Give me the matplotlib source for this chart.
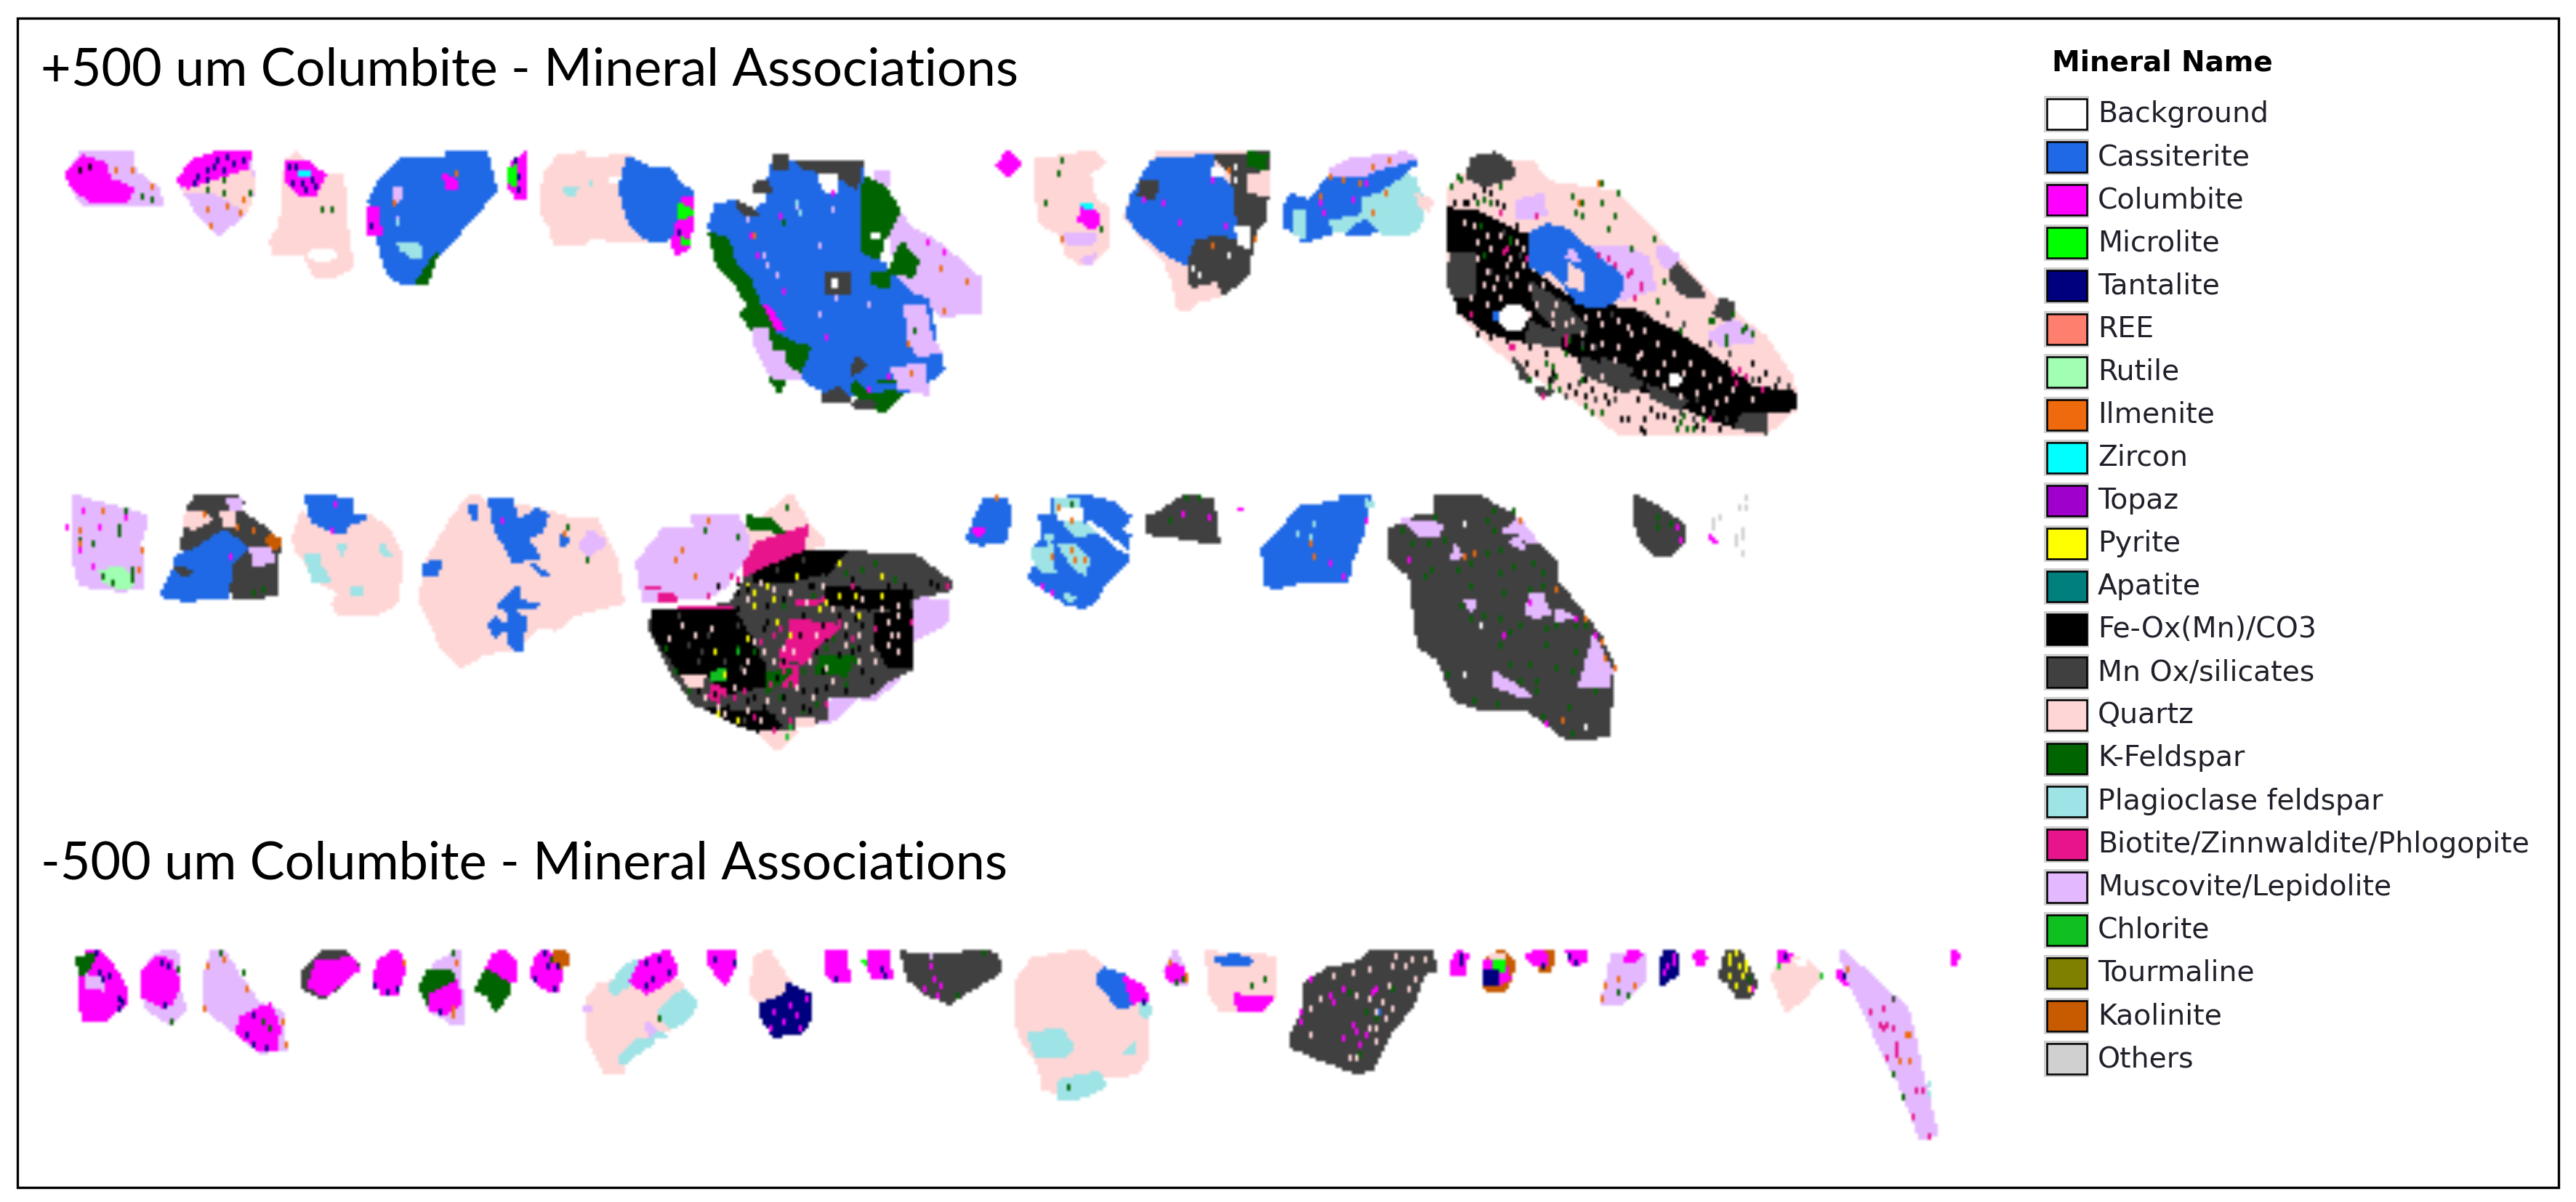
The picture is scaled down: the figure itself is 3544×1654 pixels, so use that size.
import matplotlib
matplotlib.use("Agg")
import numpy as np
import matplotlib.pyplot as plt
from matplotlib.backends.backend_agg import FigureCanvasAgg
from matplotlib.collections import PolyCollection
from matplotlib.figure import Figure
from matplotlib.patches import Polygon, Rectangle, Ellipse

# ---------- legend data ----------
MINERALS = ["Background", "Cassiterite", "Columbite", "Microlite", "Tantalite", "REE", "Rutile", "Ilmenite",
            "Zircon", "Topaz", "Pyrite", "Apatite", "Fe-Ox(Mn)/CO3", "Mn Ox/silicates", "Quartz", "K-Feldspar",
            "Plagioclase feldspar", "Biotite/Zinnwaldite/Phlogopite", "Muscovite/Lepidolite", "Chlorite",
            "Tourmaline", "Kaolinite", "Others"]
COLOURS = ["#FFFFFF", "#1F69E6", "#FF00FF", "#00FF00", "#00007F", "#FF7F6F", "#A0FFB0", "#EE6A0C",
           "#00FFFF", "#A000CC", "#FFFF00", "#007F7F", "#000000", "#404040", "#FFD6D6", "#006400",
           "#9EE3E6", "#E8148C", "#E4B8FF", "#10C020", "#808000", "#C85A00", "#D0D0D0"]
LEGEND_TITLE = "Mineral Name"
TITLE_COARSE = "+500 um Columbite - Mineral Associations"
TITLE_FINE = "-500 um Columbite - Mineral Associations"

BG, CAS, COL, MIC, TAN, REE, RUT, ILM, ZIR, TOP, PYR, APA, FE, MN, QZ, KF, PL, BI, MU, CH, TOU, KA, OT = COLOURS

# regions of the map the outlines were read in: origin x, origin y, x scale, y scale
REGIONS = {"a": (40, 180, 1.17, 3), "b": (1340, 180, 1.3067, 3), "c": (60, 660, 1.206, 3),
           "d": (1300, 660, 1.3067, 3), "e": (60, 1280, 1.206, 3), "f": (1300, 1280, 1.0814, 3)}

# ---------- grain outlines (drawn in order) ----------
GRAINS_A = [
 (MU, [(85,100),(165,100),(170,180),(205,240),(215,305),(85,305),(60,190)]),
 (COL, [(85,115),(120,140),(130,210),(165,245),(155,300),(105,300),(75,250),(60,190)]),
 (MU, [(240,210),(265,130),(300,100),(355,100),(362,240),(350,340),(305,430),(270,340)]),
 (QZ, [(250,240),(355,175),(362,230),(350,340),(330,300),(300,260),(250,250)]),
 (COL, [(240,210),(265,130),(300,100),(355,100),(350,160),(310,190),(255,240)]),
 (QZ, [(430,100),(460,180),(505,195),(510,400),(520,570),(485,615),(460,610),(445,515),(395,520),(388,460),(405,410),(410,200),(415,130)]),
 (COL, [(415,130),(445,135),(475,190),(460,270),(435,265),(415,220)]),
 (ZIR, [(432,170),(455,170),(455,195),(432,195)]),
 (CAS, [(600,125),(670,120),(672,100),(735,100),(750,250),(700,400),(650,540),(635,635),(605,640),(580,600),(565,500),(560,400),(548,300),(560,230)]),
 (COL, [(545,320),(560,330),(565,430),(548,430)]),
 (KF, [(655,520),(640,635),(625,630)]),
 (COL, [(668,195),(688,215),(688,245),(672,240)]),
 (PL, [(595,470),(625,470),(632,530),(620,530),(600,495)]),
 (MU, [(590,250),(600,250),(592,300),(585,300)]),
 (COL, [(798,100),(798,285),(785,285),(772,230),(775,150)]),
 (MIC, [(772,165),(785,155),(785,225),(775,230)]),
 (QZ, [(855,110),(890,100),(900,130),(960,105),(970,125),(960,240),(965,380),(1005,460),(960,460),(900,445),(890,470),(845,470),(840,400),(822,340),(830,180)]),
 (BG, [(930,190),(955,190),(955,225),(935,225)]),
 (PL, [(860,240),(880,240),(875,265),(865,265)]),
 (CAS, [(965,120),(1000,165),(1030,160),(1045,220),(1068,270),(1060,420),(1020,460),(990,450),(965,380),(950,240)]),
 (COL, [(1050,290),(1068,280),(1062,490),(1040,510),(1035,470),(1045,380)]),
 (MIC, [(1048,310),(1066,345),(1055,365),(1045,360)]),
 (MIC, [(1050,450),(1062,470),(1050,480)]),
 (MU, [(1360,170),(1385,180),(1375,280),(1420,410),(1450,450),(1480,510),(1530,620),(1530,760),(1470,765),(1455,740),(1430,700),(1400,650),(1390,500)]),
 (CAS, [(1195,150),(1230,140),(1340,130),(1345,300),(1345,520),(1375,560),(1420,690),(1445,700),(1460,900),(1470,990),(1430,1070),(1380,1100),(1280,1080),(1240,1020),(1210,960),(1200,870),(1170,720),(1140,590),(1115,480),(1095,400),(1105,310),(1140,300),(1165,340),(1190,300),(1190,210)]),
 (KF, [(1095,430),(1125,460),(1135,560),(1160,630),(1175,730),(1205,830),(1185,820),(1165,830),(1145,760),(1160,730),(1135,630),(1110,570)]),
 (KF, [(1195,840),(1225,880),(1255,900),(1240,1000),(1225,990),(1208,960),(1215,910),(1195,915)]),
 (KF, [(1345,200),(1375,240),(1400,340),(1375,450),(1365,530),(1340,500),(1340,300)]),
 (KF, [(1405,475),(1430,545),(1420,605),(1385,590),(1395,520)]),
 (KF, [(1355,600),(1380,600),(1385,650),(1360,640)]),
 (KF, [(1330,1040),(1350,1100),(1385,1085),(1405,1090),(1375,1165),(1345,1130),(1325,1070)]),
 (KF, [(1195,1030),(1215,1040),(1205,1080)]),
 (KF, [(1365,1030),(1410,1030),(1410,1050),(1370,1050)]),
 (MU, [(1165,830),(1185,825),(1195,915),(1215,920),(1210,960),(1240,1020),(1200,1030),(1190,1000),(1170,900)]),
 (MU, [(1410,730),(1440,730),(1450,860),(1465,920),(1430,930),(1415,860)]),
 (MU, [(1390,990),(1440,970),(1445,1090),(1400,1060)]),
 (MN, [(1200,110),(1222,110),(1220,160),(1200,165)]),
 (MN, [(1235,130),(1340,130),(1330,240),(1300,190),(1260,165),(1240,150)]),
 (MN, [(1165,230),(1185,215),(1195,260),(1170,255)]),
 (MN, [(1140,300),(1160,330),(1170,355),(1145,340)]),
 (MN, [(1285,590),(1320,600),(1320,670),(1280,680)]),
 (MN, [(1330,940),(1345,970),(1325,1010)]),
 (MN, [(1275,1100),(1305,1070),(1320,1120),(1280,1125)]),
 (MN, [(1330,1120),(1360,1130),(1350,1150),(1325,1140)]),
 (BG, [(1270,190),(1300,190),(1300,260),(1280,250)]),
 (BG, [(1290,620),(1300,620),(1300,650),(1290,650)]),
 (BG, [(1355,430),(1370,430),(1370,450),(1355,450)]),
 (COL, [(1185,730),(1195,760),(1215,830),(1205,830)]),
]
HOLES_A = [(472, 520, 38, 38)]

GRAINS_B = [
 (COL, [(60,100),(80,145),(60,190),(42,145)]),
 (QZ, [(110,130),(190,100),(215,100),(232,135),(205,180),(215,300),(238,320),(240,480),(215,540),(195,560),(165,510),(155,430),(120,390),(110,250)]),
 (COL, [(195,330),(220,350),(222,390),(210,410),(188,370)]),
 (ZIR, [(195,305),(210,305),(208,330),(198,330)]),
 (MU, [(160,440),(215,430),(215,465),(190,475),(165,465)]),
 (MU, [(195,540),(215,520),(205,560)]),
 (QZ, [(330,100),(525,100),(525,250),(490,560),(440,685),(400,710),(385,745),(368,745),(355,620),(340,530),(300,440),(270,360),(280,300),(300,210)]),
 (MN, [(430,110),(525,100),(525,180),(490,180),(490,260),(525,270),(520,380),(500,430),(490,600),(445,680),(440,620),(390,645),(385,560),(400,460),(450,445),(470,420),(465,360),(440,320),(465,260),(460,180)]),
 (CAS, [(320,130),(370,120),(430,110),(430,180),(460,250),(470,440),(400,460),(385,560),(345,510),(300,430),(275,360),(280,290),(300,210)]),
 (MN, [(400,460),(450,445),(450,530),(395,640),(385,560)]),
 (MN, [(300,220),(330,210),(320,290),(295,270)]),
 (QZ, [(495,190),(525,180),(525,270),(495,260)]),
 (BG, [(470,400),(495,410),(495,490),(475,470)]),
 (KF, [(495,100),(525,105),(520,160),(495,150)]),
 (BG, [(425,165),(445,170),(440,195),(425,190)]),
 (PL, [(770,185),(790,210),(805,300),(800,400),(775,430),(720,425),(640,420),(635,365),(695,350),(695,270),(720,260)]),
 (CAS, [(570,270),(600,300),(640,195),(700,190),(715,170),(790,120),(795,130),(770,185),(720,260),(690,270),(695,340),(630,370),(640,425),(590,465),(585,420),(555,405),(555,340)]),
 (MU, [(640,165),(680,125),(770,100),(790,120),(715,170),(700,190),(640,195)]),
 (QZ, [(795,275),(820,295),(815,335),(800,310)]),
 (PL, [(575,340),(590,340),(590,445),(572,430)]),
 (CAS, [(670,430),(700,380),(720,425)]),
 (QZ, [(880,190),(935,100),(960,140),(1000,135),(1030,220),(1150,260),(1200,370),(1240,480),(1320,680),(1420,860),(1470,1030),(1475,1150),(1420,1255),(1160,1255),(1090,1130),(960,950),(870,760),(850,500),(850,250)]),
 (FE, [(852,330),(900,340),(950,400),(1000,450),(1000,590),(1090,730),(1180,740),(1300,900),(1400,1070),(1470,1080),(1475,1150),(1420,1170),(1420,1250),(1370,1230),(1300,1170),(1240,1110),(1170,1050),(1100,970),(1050,890),(980,870),(920,830),(870,750),(855,600)]),
 (MN, [(895,120),(935,100),(960,140),(970,190),(920,230),(885,200)]),
 (MN, [(855,510),(900,520),(900,680),(865,690),(852,640)]),
 (MN, [(1000,800),(1050,850),(1050,890),(990,880)]),
 (MN, [(970,950),(1000,1040),(985,1030)]),
 (MN, [(1250,530),(1300,640),(1310,690),(1270,680),(1250,600)]),
 (MN, [(1340,700),(1365,720),(1360,790),(1330,760)]),
 (MN, [(1090,940),(1200,1050),(1170,1080),(1090,1000)]),
 (MN, [(1210,1060),(1280,1120),(1260,1150),(1220,1110)]),
 (MN, [(1380,1170),(1420,1170),(1420,1250),(1370,1230)]),
 (MN, [(1010,1070),(1040,1080),(1020,1105)]),
 (MN, [(1000,640),(1060,720),(1100,830),(1060,850),(1010,740)]),
 (MN, [(1130,950),(1180,990),(1165,1020),(1125,990)]),
 (MU, [(1110,480),(1170,490),(1210,530),(1220,660),(1160,700),(1165,620),(1120,530)]),
 (CAS, [(1000,430),(1030,395),(1065,420),(1110,510),(1165,620),(1155,690),(1130,730),(1085,720),(1060,640),(1030,570),(1020,600),(1000,560)]),
 (QZ, [(1070,560),(1090,600),(1095,660),(1065,640)]),
 (MU, [(1070,500),(1085,540),(1065,530)]),
 (MU, [(975,300),(1020,270),(1025,350),(975,370)]),
 (MU, [(1230,480),(1250,500),(1265,530),(1245,570),(1225,520)]),
 (MU, [(1360,790),(1400,830),(1400,870),(1340,890),(1320,850)]),
 (CAS, [(935,750),(945,750),(945,785),(930,785)]),
]
HOLES_B = [(968, 775, 44, 100), (1257, 1030, 18, 40)]

GRAINS_C = [
 (MU, [(50,70),(75,90),(165,150),(170,180),(160,260),(165,450),(130,460),(60,440),(48,300)]),
 (RUT, [(95,380),(130,370),(150,440),(130,455),(100,420)]),
 (MN, [(255,70),(315,70),(330,100),(325,140),(370,210),(390,260),(385,480),(340,490),(320,490),(310,460),(310,350),(335,290),(300,210),(240,310),(230,280),(235,190),(240,125)]),
 (QZ, [(232,150),(260,140),(275,170),(250,205),(232,185)]),
 (QZ, [(295,140),(315,140),(318,190),(300,190)]),
 (CAS, [(300,215),(335,290),(310,350),(305,490),(235,500),(195,480),(215,390),(220,325),(255,290)]),
 (MU, [(345,295),(375,290),(380,340),(350,360)]),
 (MU, [(305,85),(328,90),(325,130),(310,125)]),
 (KA, [(375,230),(392,260),(385,285),(372,260)]),
 (MN, [(220,370),(245,380),(235,400)]),
 (QZ, [(430,140),(450,200),(500,200),(540,155),(570,210),(595,320),(585,510),(550,560),(490,560),(480,520),(490,470),(450,410),(430,320),(418,300),(415,235)]),
 (CAS, [(435,80),(465,70),(510,90),(512,160),(535,160),(505,190),(495,225),(465,200),(445,170)]),
 (PL, [(435,320),(455,318),(460,370),(475,430),(450,430)]),
 (PL, [(490,270),(500,270),(495,310)]),
 (PL, [(510,450),(530,460),(525,480),(512,475)]),
 (PL, [(560,270),(575,320),(565,320)]),
 (QZ, [(715,70),(735,100),(790,110),(880,170),(915,170),(950,340),(960,510),(880,560),(850,620),(820,610),(780,700),(730,720),(690,775),(660,690),(625,500),(635,340),(680,160),(700,90)]),
 (CAS, [(740,90),(775,90),(785,180),(820,130),(835,150),(825,220),(800,240),(820,330),(780,340),(770,290),(750,210)]),
 (CAS, [(705,115),(718,110),(715,165)]),
 (CAS, [(630,355),(660,340),(650,390),(632,395)]),
 (CAS, [(785,445),(790,510),(820,515),(815,530),(785,535),(775,560),(755,520)]),
 (CAS, [(750,570),(762,620),(750,650),(740,610)]),
 (CAS, [(770,560),(800,570),(795,640),(790,710),(775,690),(768,620)]),
 (CAS, [(810,355),(835,400),(825,395)]),
 (CAS, [(860,240),(870,260),(860,270)]),
 (MU, [(905,220),(930,260),(905,320),(890,280)]),
 (MU, [(1075,150),(1145,150),(1170,220),(1170,300),(1130,440),(1100,490),(995,500),(985,350),(1030,205),(1080,205)]),
 (QZ, [(1240,70),(1265,180),(1295,270),(1180,340),(1170,210)]),
 (MU, [(1440,490),(1500,510),(1495,600),(1460,640),(1440,670),(1440,580)]),
 (MU, [(1370,840),(1420,780),(1415,830),(1375,910),(1350,900),(1300,1010),(1280,1000),(1310,910)]),
 (MN, [(1180,350),(1230,295),(1330,300),(1400,320),(1445,320),(1505,430),(1500,460),(1440,490),(1440,780),(1400,830),(1370,890),(1300,900),(1295,990),(1250,1020),(1200,1050),(1140,980),(1080,930),(1040,790),(1005,620),(1010,550),(1140,520)]),
 (FE, [(1010,550),(1140,530),(1180,700),(1200,850),(1140,880),(1100,810),(1060,810),(1040,740),(1010,630)]),
 (FE, [(1180,350),(1230,295),(1330,300),(1300,380),(1240,420),(1180,420)]),
 (FE, [(1380,560),(1440,540),(1440,780),(1400,770),(1380,680)]),
 (FE, [(1100,950),(1200,970),(1220,1020),(1190,1045),(1140,1000)]),
 (FE, [(1300,450),(1440,470),(1430,540),(1300,520)]),
 (BI, [(1240,580),(1320,610),(1280,690),(1260,760),(1220,730),(1240,650)]),
 (BI, [(1180,270),(1265,200),(1260,290),(1190,360),(1160,400)]),
 (BI, [(995,440),(1025,440),(1025,455),(995,455)]),
 (BI, [(1020,480),(1040,480),(1050,500),(1020,500)]),
 (BI, [(1050,530),(1145,530),(1145,540),(1050,540)]),
 (BI, [(1250,500),(1290,500),(1280,520),(1250,515)]),
 (BI, [(1110,850),(1130,880),(1120,920),(1105,900)]),
 (BI, [(1220,760),(1250,780),(1250,860),(1225,850)]),
 (KF, [(1170,160),(1205,165),(1225,220),(1170,200)]),
 (KF, [(1200,800),(1240,790),(1200,880)]),
 (KF, [(1290,730),(1340,740),(1330,810),(1280,800)]),
 (CH, [(1110,800),(1130,790),(1130,825),(1110,825)]),
 (QZ, [(1060,810),(1095,810),(1090,860),(1070,860)]),
 (QZ, [(1250,980),(1280,980),(1280,1020),(1245,1020)]),
 (QZ, [(1190,1050),(1250,1040),(1215,1115)]),
]

GRAINS_D = [
 (CAS, [(70,90),(105,85),(118,135),(105,260),(65,270),(40,250),(55,160)]),
 (COL, [(50,205),(70,215),(55,235)]),
 (CAS, [(190,90),(245,70),(300,100),(330,160),(315,210),(330,240),(325,340),(280,440),(270,500),(245,530),(215,510),(150,410),(165,340),(155,300),(175,250),(170,150),(190,150)]),
 (PL, [(195,90),(240,80),(240,150),(195,140)]),
 (BG, [(205,125),(245,125),(245,180),(205,160)]),
 (PL, [(215,180),(270,195),(270,225),(235,230)]),
 (PL, [(160,290),(190,280),(195,385),(175,380),(155,320)]),
 (PL, [(205,275),(230,280),(255,335),(250,395),(225,340)]),
 (PL, [(180,240),(190,240),(185,265)]),
 (PL, [(215,480),(232,490),(225,505)]),
 (BG, [(258,185),(262,185),(325,300),(321,300)]),
 (MN, [(360,150),(380,150),(430,70),(480,90),(490,265),(440,250),(410,235),(380,235),(360,215)]),
 (COL, [(525,120),(535,120),(535,140),(528,140)]),
 (CAS, [(640,115),(710,100),(710,70),(760,70),(750,220),(730,330),(720,430),(630,430),(590,450),(575,430),(570,290),(600,220)]),
 (PL, [(755,85),(770,115),(755,120)]),
 (MN, [(880,70),(955,70),(1030,170),(1060,260),(1095,340),(1100,430),(1145,560),(1175,650),(1200,780),(1190,1060),(1120,1075),(1045,950),(960,945),(915,910),(885,740),(850,690),(835,400),(800,330),(795,220),(850,150),(880,150)]),
 (MU, [(1005,215),(1030,170),(1060,260),(1030,250),(1040,290),(1015,260),(1040,230)]),
 (MU, [(820,170),(850,180),(890,190),(885,230),(850,235),(835,190)]),
 (MU, [(1050,470),(1070,480),(1085,550),(1060,575),(1045,550)]),
 (MU, [(1095,540),(1125,570),(1095,590)]),
 (MU, [(1165,650),(1195,790),(1190,850),(1140,850),(1150,780)]),
 (MU, [(985,800),(1050,895),(1030,890),(985,850)]),
 (MU, [(935,500),(950,500),(945,550)]),
 (MU, [(915,280),(925,320),(910,330)]),
 (MN, [(1240,70),(1300,150),(1328,200),(1325,260),(1300,315),(1275,315),(1250,250),(1240,190)]),
 (COL, [(1375,240),(1385,265),(1378,265)]),
]

GRAINS_E = [
 (COL, [(85,85),(110,130),(135,240),(135,300),(100,378),(65,375),(60,240),(70,100)]),
 (KF, [(55,115),(85,105),(65,190)]),
 (MU, [(70,190),(95,195),(100,245),(70,240)]),
 (MU, [(165,170),(190,100),(220,85),(225,250),(235,330),(210,385),(170,320)]),
 (COL, [(190,110),(210,130),(225,230),(210,300),(200,320),(165,270),(165,175)]),
 (MU, [(280,85),(300,90),(320,180),(355,300),(395,340),(400,490),(360,505),(320,420),(265,320),(265,200)]),
 (COL, [(375,310),(390,400),(385,500),(360,500),(320,420),(330,360)]),
 (MN, [(430,180),(465,90),(495,90),(520,150),(480,250),(460,280),(430,235)]),
 (COL, [(455,130),(510,120),(522,160),(465,270),(440,230)]),
 (COL, [(585,85),(600,150),(585,260),(565,265),(548,220),(555,130)]),
 (MU, [(650,140),(690,90),(695,380),(680,385),(640,330),(630,260)]),
 (KF, [(640,170),(675,170),(680,220),(650,240),(640,310),(625,240)]),
 (COL, [(640,270),(685,215),(692,300),(665,345),(640,330)]),
 (COL, [(760,85),(780,130),(780,210),(750,225),(735,170),(745,110)]),
 (KF, [(735,170),(770,225),(770,260),(750,330),(738,270),(718,250)]),
 (COL, [(830,85),(860,130),(860,190),(850,250),(830,240),(810,185),(815,120)]),
 (KA, [(845,95),(865,95),(870,130),(855,160)]),
 (QZ, [(920,230),(980,195),(1055,215),(1060,250),(1020,340),(1045,400),(1010,430),(1005,470),(960,550),(960,590),(930,585),(915,510),(900,430),(900,300)]),
 (PL, [(1060,250),(1080,300),(1075,340),(1045,405),(1020,345)]),
 (PL, [(985,450),(1010,460),(960,550),(955,525)]),
 (PL, [(960,160),(985,130),(985,195),(945,270),(940,240)]),
 (PL, [(1010,420),(1030,435),(1005,440)]),
 (COL, [(990,130),(1035,85),(1050,170),(1030,215),(1000,260),(975,210)]),
 (MU, [(1000,385),(1015,410),(1005,440)]),
 (MU, [(895,318),(910,318),(910,345),(895,345)]),
 (COL, [(1105,85),(1145,90),(1148,130),(1130,220),(1118,190),(1105,140)]),
 (QZ, [(1200,85),(1235,210),(1240,260),(1190,300),(1172,260),(1180,120)]),
 (TAN, [(1235,230),(1272,270),(1272,350),(1255,430),(1210,435),(1190,350),(1190,310),(1230,270)]),
 (COL, [(1300,95),(1330,95),(1335,210),(1310,210),(1298,170)]),
 (COL, [(1370,90),(1400,85),(1405,195),(1375,195),(1365,140)]),
 (MIC, [(1355,125),(1365,125),(1365,155)]),
]

GRAINS_F = [
 (MN, [(-64,95),(-25,105),(20,100),(45,85),(75,100),(82,170),(40,240),(15,280),(5,300),(-5,290),(-30,260),(-55,200)]),
 (QZ, [(130,120),(205,85),(230,150),(260,200),(300,290),(300,520),(285,590),(230,610),(170,665),(145,660),(140,560),(108,420),(105,220)]),
 (PL, [(125,430),(170,410),(190,480),(175,520),(135,515)]),
 (PL, [(170,625),(225,590),(238,640),(200,690),(170,695)]),
 (PL, [(285,460),(285,515),(265,515)]),
 (PL, [(295,300),(305,330),(298,365),(288,325)]),
 (CAS, [(235,160),(265,190),(280,300),(262,325),(240,260),(225,205)]),
 (COL, [(265,195),(290,230),(302,285),(280,300)]),
 (MU, [(340,85),(350,140),(360,225),(340,230),(325,170),(335,130)]),
 (COL, [(335,135),(355,170),(352,210),(335,215),(328,170)]),
 (QZ, [(388,95),(465,100),(490,125),(490,270),(485,280),(470,335),(410,335),(395,270)]),
 (CAS, [(410,115),(430,105),(455,125),(445,145),(415,145),(400,120)]),
 (COL, [(430,270),(485,280),(465,335),(435,325)]),
 (MN, [(630,95),(720,85),(730,160),(710,180),(695,310),(660,420),(635,570),(615,590),(550,525),(515,480),(515,430),(530,360),(535,220),(575,155),(610,145)]),
 (COL, [(765,85),(775,110),(770,180),(750,180),(755,130)]),
 (KA, [(825,85),(845,130),(840,200),(830,250),(805,250),(800,225),(800,135)]),
 (QZ, [(815,100),(835,100),(835,130),(810,130)]),
 (COL, [(800,135),(830,135),(838,200),(820,225),(800,220)]),
 (TAN, [(802,170),(820,165),(820,220),(802,220)]),
 (MIC, [(815,135),(830,135),(830,170),(820,160)]),
 (KA, [(890,95),(905,95),(898,170),(885,165)]),
 (COL, [(865,105),(880,85),(895,110),(890,145),(872,135)]),
 (COL, [(925,85),(950,85),(952,120),(935,150),(928,125)]),
 (MU, [(990,110),(1040,100),(1038,210),(1005,300),(975,310),(985,200)]),
 (COL, [(1020,85),(1035,100),(1020,130),(1010,125)]),
 (TAN, [(1070,90),(1085,95),(1090,170),(1065,230),(1062,140)]),
 (COL, [(1122,85),(1130,115),(1122,150),(1113,110)]),
 (MN, [(1162,90),(1180,90),(1195,170),(1205,220),(1195,280),(1180,280),(1165,220),(1152,190)]),
 (QZ, [(1245,110),(1280,130),(1300,185),(1275,280),(1250,335),(1245,300),(1230,200)]),
 (BG, [(1265,130),(1280,130),(1275,145)]),
 (COL, [(1240,90),(1258,100),(1250,130),(1238,125)]),
 (COL, [(1330,165),(1340,220),(1325,195)]),
 (MU, [(1330,85),(1350,130),(1430,330),(1440,440),(1455,640),(1475,850),(1450,855),(1420,640),(1390,480),(1360,300),(1340,190)]),
 (COL, [(1500,85),(1505,110),(1500,150),(1497,105)]),
]

# ---------- small inclusions ----------
SPECKS_A = [
 (TAN, [(270,200),(285,165),(300,150),(315,175),(330,140),(345,130),(265,220),(290,210),(320,120),(305,125)]),
 (ILM, [(140,175),(165,165),(200,235),(320,320),(345,295),(340,340),(290,330),(295,400),(690,185),(590,300),(1165,435),(1415,890),(1465,570),(1510,625),(1470,750),(1420,1000)]),
 (KF, [(183,275),(200,290),(315,210),(355,270),(290,250),(315,270),(485,330),(470,330),(1215,390),(1425,830)]),
 (TAN, [(430,150),(455,210),(440,230),(425,225),(460,235),(445,255),(420,160),(785,135),(788,190),(790,250),(1045,430),(552,395)]),
 (MU, [(1155,370),(1235,315),(1293,325),(1190,555),(1205,595),(1270,760),(1300,700),(1350,720),(1270,480),(1185,515),(595,375)]),
 (COL, [(1160,435),(1170,525),(1280,860),(1215,670),(1470,505),(1447,460),(1295,260),(1210,355),(1385,1020),(1350,1080)]),
 (PL, [(1243,350),(1235,310),(595,380),(905,230)]),
 (FE, [(82,170),(100,150)]),
]
SPECKS_B = [
 (KF, [(150,180),(128,300),(225,410),(155,130),(870,200),(905,300),(925,300),(855,240),(945,240),(1125,225),(1075,280),(1095,310),(1125,310),(1155,270),(1080,350),(1095,360),(1150,360),(1140,415),(1180,490),(1220,450),(1240,630),(1225,705),(1320,790),(1270,825),(1360,770),(1385,815),(1350,880),(1270,1210),(1290,1230),(1040,980),(1050,1070),(1000,1040),(1100,1140),(1125,1165),(960,455),(910,405),(915,520),(1060,930),(1090,890),(1400,850),(1030,960),(1045,1020),(1035,1060),(1275,1185),(1260,1235),(1280,1240),(1310,1195),(875,205),(915,295),(960,460),(1325,785),(1350,860),(1380,825),(1070,870),(1090,900),(1095,1035),(1110,1165)]),
 (ILM, [(640,200),(665,205),(690,225),(715,150),(745,130),(620,280),(740,270),(715,340),(160,450),(505,450),(425,485),(455,175),(1085,300),(1120,230)]),
 (COL, [(340,300),(305,285),(428,210),(370,385),(620,300),(680,285),(705,225),(630,350),(450,400)]),
 (BI, [(955,490),(950,510),(990,540),(1010,360),(1120,520),(1150,560),(1175,600),(1195,640),(1185,700),(1360,1000),(1385,1020),(1370,1050),(1415,1070),(1320,1190),(1060,860),(970,900),(945,345),(890,760),(1020,1100),(1180,590),(1200,650),(1140,540),(1375,990),(1395,1040),(1060,880),(965,905)]),
 (QZ, [(905,460),(930,500),(960,530),(985,560),(920,590),(935,660),(960,640),(1000,650),(1040,770),(1075,790),(1100,780),(1130,810),(1125,880),(1180,850),(1200,920),(1240,960),(1275,1000),(1320,1060),(1350,1120),(1270,1100),(1040,810),(1150,950),(1205,1010),(1240,1060),(1310,1150),(1000,770),
      (880,380),(900,400),(920,440),(945,440),(975,470),(985,500),(955,560),(905,540),(940,610),(975,600),(915,640),(890,700),(920,720),(945,690),(1020,640),(1010,720),(1045,720),(1065,810),(1090,840),(1120,770),(1155,790),(1175,820),(1205,830),(1230,880),(1255,920),(1285,960),(1310,1000),(1340,1030),(1365,1080),(1395,1120),(1335,1130),(1300,1090),(1225,1000),(1190,940),(1155,900),(1110,900),(1080,950),(1130,1020)]),
 (FE, [(1100,1100),(1135,1100),(1165,1190),(1195,1230),(1205,1250),(1240,1180),(1300,1220),(1340,1240),(1040,1000),(1100,1040),(1300,1000),(1350,1040),(940,300),(915,250),(1000,900),(1030,930),(1330,950),(1395,970),(1420,1000),(880,310),
      (860,300),(885,300),(900,275),(925,270),(950,320),(975,400),(1070,1060),(1080,1090),(1110,1080),(1140,1130),(1150,1070),(1190,1110),(1215,1150),(1230,1180),(1255,1200),(1345,1000),(1305,920),(1280,870),(1410,1040),(1440,1060),(1350,960),(1260,840),(1175,1190),(1205,1200),(1310,1240),(1035,1040),(1010,1000),(990,960),(955,870),(925,855),(905,840)]),
 (MN, [(1040,1040),(1060,1100),(1085,1050),(1115,1110),(1150,1120),(1300,1120),(1330,1170),(1270,1165),(1290,1195),(1350,1200),(1445,1040),(1460,1060),(1395,1030),(1355,930),(1320,880),(1275,800),(1245,770),(1205,760),(1145,760),(1115,900),(1090,885),(950,420),(925,590),(955,620),(980,520)]),
 (BG, [(395,570),(405,600),(470,215),(470,150),(455,520)]),
]
SPECKS_C = [
 (KF, [(125,200),(125,230),(135,140),(60,250),(100,405),(115,430),(150,370),(150,395),(148,420),(85,265),(1175,170),(1205,200),(1235,120),(1095,215),(1150,240),(1330,390),(1360,380),(1410,420),(1230,530),(1275,490),(1180,720),(1310,660),(1340,700),(1240,850),(1280,930),(1345,760),(1150,700),(1120,440),(350,470),(365,460),(868,195),(900,340),(1380,350),(1300,700),(1330,850),(1260,800),(1220,900),(1260,960),(1050,800),(1030,700),(1070,880)]),
 (COL, [(68,130),(95,200),(60,300),(85,360),(135,165),(40,200),(485,100),(480,210),(310,320),(760,170)]),
 (ILM, [(100,130),(60,210),(58,265),(165,300),(160,380),(1105,180),(1060,300),(1050,330),(862,225),(1080,400),(265,150),(320,195),(350,210)]),
 (PYR, [(1180,470),(1210,500),(1320,350),(1180,530),(1285,545),(1350,560),(1300,510),(1165,660),(1115,710),(1170,440),(1390,410),(1150,995),(1120,965),(1240,640),(1320,480),(1250,400),(1345,490),(1200,440),(1130,810),(1215,590),(1390,480)]),
 (QZ, [(1190,430),(1240,470),(1290,440),(1360,500),(1400,590),(1330,600),(1280,640),(1230,700),(1210,760),(1330,690),(1400,690),(1380,760),(1300,780),(1250,860),(1200,920),(1170,960),(1120,940),(1170,760),(1180,680),(1420,640),(1350,650),
      (1150,470),(1170,500),(1210,460),(1265,510),(1310,540),(1390,540),(1420,530),(1405,640),(1375,700),(1350,760),(1310,840),(1270,760),(1245,720),(1195,710),(1160,800),(1145,860),(1095,900),(1130,970),(1190,1000),(1225,960),(1275,900),(1060,600),(1040,660),(1080,640),(1110,620),(1210,650),(1415,720),(1415,560),(1340,540)]),
 (FE, [(1300,390),(1340,420),(1400,450),(1270,440),(1230,500),(1260,570),(1320,560),(1360,600),(1330,640),(1290,790),(1340,720),(1360,800),(1230,900),(1260,940),(1180,900),(1210,990),(1280,870),(1200,590),(1120,450),(1150,470),
      (1150,430),(1170,455),(1200,520),(1275,450),(1310,490),(1370,545),(1345,580),(1290,600),(1255,640),(1300,660),(1380,640),(1350,700),(1320,730),(1280,720),(1230,760),(1195,770),(1215,820),(1260,880),(1300,860),(1330,880),(1375,830),(1165,920),(1195,940),(1240,1010),(1270,960),(1085,880),(1115,890),(1135,940),(1430,440),(1470,430),(1485,450),(1150,540),(1195,620)]),
 (BI, [(1340,660),(1300,640),(1380,620),(1210,640),(1190,670),(1160,880),(1145,900),(1300,930),(1240,1000),(1210,1040),(1440,590),(1160,350),(1150,420),(1220,620),(1320,590),(1265,720),(1230,790),(1205,850),(1180,980),(1340,450),(1290,500),(1140,400),(1100,480),(1500,450)]),
 (MN, [(1100,650),(1090,720),(1070,690),(1130,760),(1085,760),(1150,600),(1055,570),(1260,340),(1215,380),(1310,400),(1155,780),(1125,900),(1160,1000)]),
 (CH, [(1150,720),(1120,815),(1240,1020),(1235,1060)]),
]
SPECKS_D = [
 (KF, [(985,130),(1020,130),(975,175),(985,220),(880,160),(820,210),(840,270),(870,275),(895,260),(920,370),(945,350),(975,305),(1000,290),(860,410),(875,370),(1000,385),(1020,360),(1055,345),(1075,390),(1050,460),(1075,440),(1005,465),(945,440),(925,520),(945,580),(965,570),(1000,585),(1030,600),(1015,635),(1080,615),(1100,610),(1130,610),(1150,610),(1000,690),(1080,690),(1130,720),(1050,770),(1015,770),(1100,780),(1125,790),(905,810),(1030,830),(1060,830),(1060,880),(1165,880),(950,920),(990,935),(1120,950),(1075,990),(1125,1050),(1280,155),(1280,195),(1305,190),(430,85),(458,80),(405,175),(228,100)]),
 (ILM, [(90,75),(205,125),(225,180),(225,290),(190,320),(230,330),(250,340),(665,190),(655,265),(665,320),(1030,170),(1100,460),(1150,575),(1180,680),(1185,745),(1205,785),(935,325),(950,305),(1110,1000)]),
 (COL, [(690,355),(755,180),(715,400),(425,150),(475,160),(1005,650),(830,330),(1050,515),(1130,580),(1165,640),(1315,205),(1320,250),(190,470),(175,445),(1080,1005)]),
 (PL, [(665,190),(630,225),(655,240)]),
 (BG, [(935,190),(960,610),(935,805),(1150,1025)]),
 (OT, [(1440,85),(1425,115),(1440,115),(1390,160),(1380,170),(1380,195),(1435,210),(1420,240),(1430,240),(1420,270),(1430,305)]),
]
SPECKS_E = [
 (TAN, [(90,100),(95,175),(110,190),(100,210),(125,330),(130,300),(125,280),(195,130),(205,150),(200,315),(350,350),(350,480),(370,490),(335,430),(550,235),(585,245),(570,255),(655,340),(830,95),(815,200),(845,240),(855,150),(835,150),(1000,130),(1020,120),(1040,180),(1010,200),(1000,235),(1115,125),(1145,130),(1315,200),(1390,170),(1395,190)]),
 (COL, [(1210,340),(1240,310),(1250,350),(1225,380),(1255,400),(1205,410),(1265,290)]),
 (ILM, [(270,155),(300,125),(340,240),(268,320),(330,180),(395,380),(400,470),(680,320),(685,140),(680,350),(600,130)]),
 (KF, [(295,95),(210,385),(330,175),(680,100),(375,410),(365,380),(225,165),(840,120),(1020,360)]),
 (COL, [(1470,150),(1475,205),(1460,240),(1490,230),(1480,270)]),
 (MU, [(1470,115)]),
]
SPECKS_F = [
 (QZ, [(670,115),(695,120),(712,120),(685,145),(665,150),(630,160),(605,175),(578,185),(660,225),(700,210),(690,245),(590,250),(560,280),(610,265),(630,290),(650,295),(545,325),(530,335),(640,340),(665,320),(655,370),(640,410),(630,410),(545,430),(640,460),(600,525),(610,530)]),
 (COL, [(545,205),(570,265),(575,300),(590,240),(637,255),(605,390),(530,375),(590,450),(615,480),(610,420),(625,440),(640,240),(530,340)]),
 (KF, [(600,255),(665,245),(640,370),(615,520),(625,340),(20,265),(55,100),(355,200),(475,210),(455,225),(1000,255),(1015,265),(1195,200),(1410,600),(1425,685),(182,645),(345,215)]),
 (CAS, [(643,340)]),
 (PYR, [(1175,95),(1190,130),(1165,140),(1190,165),(1165,185),(1185,195),(1175,225),(1195,240),(1165,115),(1180,150)]),
 (COL, [(1200,250),(1085,130),(1075,155),(1070,180),(1085,105),(1245,110),(1335,190),(1120,110)]),
 (TAN, [(768,105),(765,130),(930,105),(935,130),(890,145),(1250,105),(1335,195),(295,295)]),
 (ILM, [(335,130),(360,190),(360,210),(1000,205),(1025,225),(980,235),(978,285),(1435,435),(1430,440),(1420,540),(1432,540),(1340,168)]),
 (BI, [(1375,335),(1397,325),(1390,390),(1400,390),(1393,412),(1407,412),(1413,480),(1413,500),(1400,525),(1415,520),(1442,665),(1452,665),(1440,775),(1462,850)]),
 (MN, [(1410,285)]),
 (PL, [(1462,640),(1462,670)]),
 (CH, [(1240,145),(1300,185)]),
]

GRAIN_SETS = [("a", GRAINS_A), ("b", GRAINS_B), ("c", GRAINS_C), ("d", GRAINS_D), ("e", GRAINS_E), ("f", GRAINS_F)]
SPECK_SETS = [("a", SPECKS_A), ("b", SPECKS_B), ("c", SPECKS_C), ("d", SPECKS_D), ("e", SPECKS_E), ("f", SPECKS_F)]
HOLE_SETS = [("a", HOLES_A), ("b", HOLES_B)]


def to_px(region, pts):
    x0, y0, sx, sy = REGIONS[region]
    return [(x0 + x / sx, y0 + y / sy) for x, y in pts]


W, H, DPI = 3544, 1654, 200
CELL = 4.5

# The map is a coarse pixel classification: draw the grains on a coarse canvas first.
map_fig = Figure(figsize=(W / CELL / 100, H / CELL / 100), dpi=100, facecolor="white")
canvas = FigureCanvasAgg(map_fig)
map_ax = map_fig.add_axes([0, 0, 1, 1])
map_ax.set_xlim(0, W)
map_ax.set_ylim(H, 0)
map_ax.axis("off")
for region, grains in GRAIN_SETS:
    for colour, pts in grains:
        map_ax.add_patch(Polygon(to_px(region, pts), closed=True, facecolor=colour, edgecolor="none",
                                 linewidth=0, antialiased=False, zorder=2))
for region, holes in HOLE_SETS:
    for x, y, w, h in holes:
        (cx, cy), = to_px(region, [(x, y)])
        sx, sy = REGIONS[region][2:]
        map_ax.add_patch(Ellipse((cx, cy), w / sx, h / sy, facecolor="white", edgecolor="none",
                                 antialiased=False, zorder=3))
for region, specks in SPECK_SETS:
    for colour, pts in specks:
        rects = [[(x - 2.25, y - 4.5), (x + 2.25, y - 4.5), (x + 2.25, y + 4.5), (x - 2.25, y + 4.5)]
                 for x, y in to_px(region, pts)]
        map_ax.add_collection(PolyCollection(rects, facecolors=colour, edgecolors="none",
                                             antialiaseds=False, zorder=4))
canvas.draw()
map_pixels = np.asarray(canvas.buffer_rgba())[:, :, :3]

fig = plt.figure(figsize=(W / DPI, H / DPI), dpi=DPI, facecolor="white")
ax = fig.add_axes([0, 0, 1, 1])
ax.imshow(map_pixels, extent=(0, W, H, 0), aspect="auto", interpolation="bilinear", zorder=1)
ax.set_xlim(0, W)
ax.set_ylim(H, 0)
ax.axis("off")

# frame
ax.add_patch(Rectangle((24, 25), 3496, 1609, fill=False, edgecolor="black", linewidth=1.2, zorder=10))

# titles
title_font = ["Lato", "DejaVu Sans"]
ax.text(56, 97, TITLE_COARSE, fontsize=25.9, family=title_font, va="center", ha="left", color="black", zorder=6)
ax.text(56, 1189, TITLE_FINE, fontsize=25.9, family=title_font, va="center", ha="left", color="black", zorder=6)

# legend
ax.text(2823, 86, LEGEND_TITLE, fontsize=14, fontweight="bold", family="DejaVu Sans", va="center", ha="left", color="black", zorder=6)
for i, (name, colour) in enumerate(zip(MINERALS, COLOURS)):
    yc = 157 + i * 59.1
    ax.add_patch(Rectangle((2812, yc - 25), 62, 50, facecolor="#cfcfcf", edgecolor="none", zorder=5))
    ax.add_patch(Rectangle((2816, yc - 21), 55, 42, facecolor=colour, edgecolor="black", linewidth=0.9, zorder=6))
    ax.text(2886, yc, name, fontsize=14.2, family="DejaVu Sans", va="center", ha="left", color="#20202a", zorder=6)

fig.savefig("out.png", dpi=DPI, facecolor="white")
